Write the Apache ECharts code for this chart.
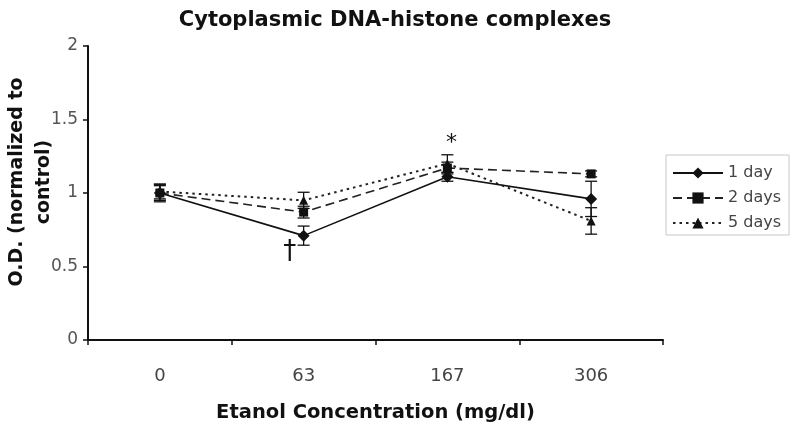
<!DOCTYPE html>
<html>
<head>
<meta charset="utf-8">
<script src="https://cdn.jsdelivr.net/npm/echarts@6/dist/echarts.min.js"></script>
<style>html,body{margin:0;padding:0;background:#fff}#c{width:800px;height:431px}</style>
</head>
<body>
<div id="c"></div>
<script>
var categories = ['0', '63', '167', '306'];
var yTicks = [0, 0.5, 1, 1.5, 2];
var seriesNames = ['1 day', '2 days', '5 days'];
var day1 = [1.00, 0.71, 1.11, 0.96];
var day2 = [1.00, 0.87, 1.17, 1.13];
var day5 = [1.01, 0.95, 1.20, 0.81];
var err1 = [0.06, 0.065, 0.03, 0.12];
var err2 = [0.05, 0.04, 0.04, 0.02];
var err5 = [0.05, 0.055, 0.06, 0.09];
var annotations = [
  {cat: '63', value: 0.6, text: '\u2020', dx: -14},
  {cat: '167', value: 1.34, text: '*', dx: 4}
];

var FONT = 'DejaVu Sans';
var chart = echarts.init(document.getElementById('c'));

function errSeries(name, vals, errs) {
  return {
    type: 'custom',
    name: name + ' err',
    silent: true,
    z: 1,
    data: vals.map(function (v, i) { return [i, v - errs[i], v + errs[i]]; }),
    renderItem: function (params, api) {
      var x = api.value(0);
      var lo = api.coord([x, api.value(1)]);
      var hi = api.coord([x, api.value(2)]);
      var w = 6;
      var st = {stroke: '#111', lineWidth: 1.3};
      return {
        type: 'group',
        children: [
          {type: 'line', shape: {x1: lo[0], y1: lo[1], x2: hi[0], y2: hi[1]}, style: st},
          {type: 'line', shape: {x1: lo[0] - w, y1: lo[1], x2: lo[0] + w, y2: lo[1]}, style: st},
          {type: 'line', shape: {x1: hi[0] - w, y1: hi[1], x2: hi[0] + w, y2: hi[1]}, style: st}
        ]
      };
    },
    encode: {x: 0, y: [1, 2]}
  };
}

var option = {
  backgroundColor: '#fff',
  animation: false,
  title: {
    text: 'Cytoplasmic DNA-histone complexes',
    left: 390, textAlign: 'center', top: 5,
    textStyle: {fontFamily: FONT, fontSize: 21, fontWeight: 'bold', color: '#111'}
  },
  legend: {
    orient: 'vertical',
    left: 666, top: 155,
    data: seriesNames,
    itemWidth: 50, itemHeight: 14, itemGap: 9,
    padding: [10, 8, 4, 6],
    borderColor: '#c8c8c8', borderWidth: 1,
    textStyle: {fontFamily: FONT, fontSize: 16, color: '#444', lineHeight: 14}
  },
  grid: {left: 88, right: 137, top: 46, bottom: 91, containLabel: false, outerBoundsMode: 'none'},
  xAxis: {
    type: 'category',
    data: categories,
    boundaryGap: true,
    name: 'Etanol Concentration (mg/dl)',
    nameLocation: 'middle', nameGap: 63,
    nameTextStyle: {fontFamily: FONT, fontSize: 19.5, fontWeight: 'bold', color: '#111'},
    axisLine: {lineStyle: {color: '#111', width: 2}},
    axisTick: {show: true, length: 5, alignWithLabel: false, lineStyle: {color: '#111', width: 1.5}},
    axisLabel: {fontFamily: FONT, fontSize: 18, color: '#444', margin: 27},
    splitLine: {show: false}
  },
  yAxis: {
    type: 'value',
    min: 0, max: 2, interval: 0.5,
    name: 'O.D. (normalized to\ncontrol)',
    nameLocation: 'middle', nameGap: 30, nameMoveOverlap: false,
    nameTextStyle: {fontFamily: FONT, fontSize: 19, fontWeight: 'bold', color: '#111', lineHeight: 27,
      padding: [0, 0, 0, 22]},
    axisLine: {show: true, lineStyle: {color: '#111', width: 2}},
    axisTick: {show: true, length: 5, lineStyle: {color: '#111', width: 1.5}},
    axisLabel: {fontFamily: FONT, fontSize: 17, color: '#555', margin: 10,
      formatter: function (v) { return yTicks.indexOf(v) >= 0 ? String(v) : ''; }},
    splitLine: {show: false}
  },
  series: [
    errSeries('1 day', day1, err1),
    errSeries('2 days', day2, err2),
    errSeries('5 days', day5, err5),
    {
      name: '1 day', type: 'line', data: day1, z: 5,
      symbol: 'diamond', symbolSize: 12,
      lineStyle: {color: '#111', width: 1.6, type: 'solid'},
      itemStyle: {color: '#111'},
      markPoint: {
        symbol: 'circle', symbolSize: 0,
        data: annotations.map(function (a) {
          return {coord: [a.cat, a.value], value: a.text,
            label: {show: true, formatter: a.text, offset: [a.dx, 0],
              fontFamily: FONT, fontSize: a.text === '*' ? 22 : 26, color: '#111', fontWeight: 'normal'}};
        })
      }
    },
    {
      name: '2 days', type: 'line', data: day2, z: 4,
      symbol: 'rect', symbolSize: 9,
      lineStyle: {color: '#222', width: 1.6, type: [9, 5]},
      itemStyle: {color: '#111'}
    },
    {
      name: '5 days', type: 'line', data: day5, z: 3,
      symbol: 'triangle', symbolSize: 9,
      lineStyle: {color: '#222', width: 2, type: [2.5, 4]},
      itemStyle: {color: '#111'}
    }
  ]
};
chart.setOption(option);
</script>
</body>
</html>
